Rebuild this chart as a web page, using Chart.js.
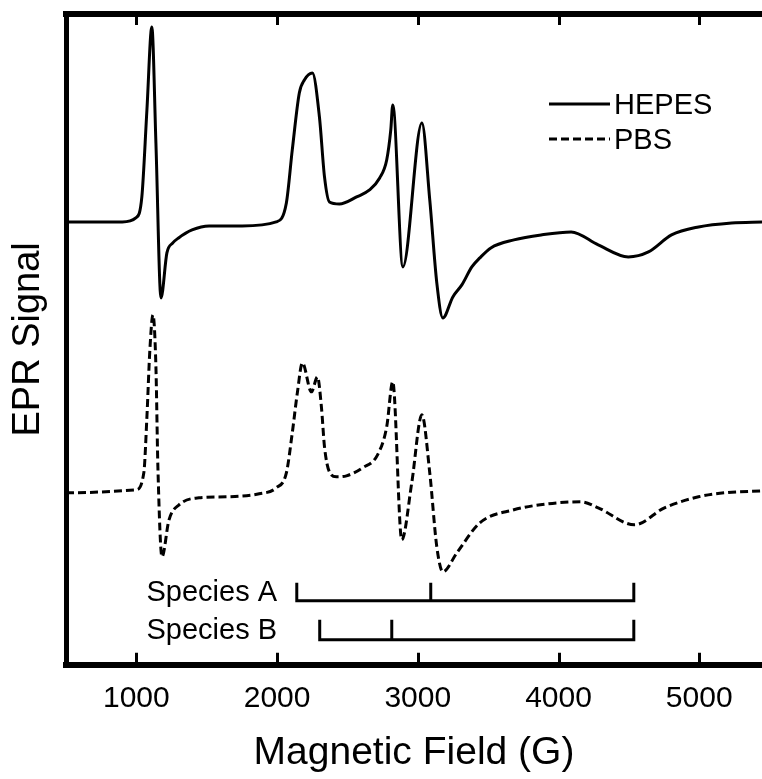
<!DOCTYPE html>
<html>
<head>
<meta charset="utf-8">
<script src="https://cdn.jsdelivr.net/npm/chart.js@4/dist/chart.umd.min.js"></script>
<style>
  html, body { margin: 0; padding: 0; background: #fff; }
  #wrap { width: 762px; height: 779px; }
</style>
</head>
<body>
<div id="wrap"><canvas id="eprChart"></canvas></div>
<script>
"use strict";

// x axis tick values (G)
const xTickValues = [1000, 2000, 3000, 4000, 5000];

// HEPES spectrum (arbitrary signal units)
const hepesField = [500, 900, 996, 1039, 1075, 1110, 1139, 1175, 1217, 1259, 1300, 1396, 1517, 1752, 1994,
    2066, 2108, 2158, 2194, 2251, 2301, 2337, 2372, 2443, 2565, 2657, 2729, 2779, 2808, 2822,
    2894, 3029, 3085, 3135, 3178, 3249, 3313, 3384, 3441, 3519, 3683, 3876, 4090, 4282, 4496,
    4639, 4803, 4995, 5230, 5450];
const hepesSignal = [443, 443, 447, 468, 555, 638, 522, 367, 412, 422, 427, 435, 439, 439, 443,
    462, 515, 572, 585, 592, 548, 488, 463, 461, 468, 475, 487, 505, 535, 560,
    398, 542, 465, 382, 347, 368, 380, 398, 407, 417, 425, 430, 433, 420, 408,
    413, 430, 438, 442, 443];

// PBS spectrum
const pbsField = [500, 996, 1053, 1075, 1096, 1118, 1139, 1153, 1182, 1232, 1303, 1445, 1638, 1873,
    1994, 2066, 2108, 2144, 2180, 2244, 2287, 2315, 2337, 2372, 2422, 2493, 2607, 2714, 2779,
    2822, 2886, 2957, 3029, 3085, 3135, 3178, 3278, 3441, 3683, 3926, 4161, 4282, 4539, 4753,
    4995, 5180, 5450];
const pbsSignal = [172, 175, 192, 248, 315, 350, 298, 198, 108, 145, 160, 167, 168, 171,
    177, 192, 232, 272, 302, 273, 288, 258, 218, 193, 188, 189, 197, 210, 238,
    283, 125, 182, 250, 192, 118, 93, 112, 142, 155, 161, 163, 157, 140, 157,
    168, 172, 174];

// stick diagrams: start, middle, end field (G)
const speciesAField = [2140, 3092, 4535];
const speciesBField = [2303, 2815, 4535];
const speciesALevel = [64, 82];
const speciesBLevel = [25, 45];
const speciesLabels = ['Species A', 'Species B'];
const labelAnchorField = 2000;

const seriesNames = ['HEPES', 'PBS'];

const zip = (xs, ys) => xs.map((x, i) => ({ x: x, y: ys[i] }));

//bracket with a tick at start, middle and end
function stickData(field, level) {
    const [start, mid, end] = field;
    const [base, top] = level;
    return [
        { x: start, y: top }, { x: start, y: base }, { x: end, y: base }, { x: end, y: top },
        { x: end, y: null },
        { x: mid, y: base }, { x: mid, y: top }
    ];
}

const FONT = '"Liberation Sans", Arial, Helvetica, sans-serif';

//inward tick marks, legend and stick labels
const extrasPlugin = {
    id: 'extras',
    afterDraw(chart) {
        const ctx = chart.ctx;
        const xs = chart.scales.x;
        const ys = chart.scales.y;
        const area = chart.chartArea;
        ctx.save();
        ctx.strokeStyle = '#000';
        ctx.lineWidth = 3;
        xTickValues.forEach(v => {
            const px = Math.round(xs.getPixelForValue(v)) + 0.5;
            ctx.beginPath();
            ctx.moveTo(px, area.bottom);
            ctx.lineTo(px, area.bottom - 12);
            ctx.moveTo(px, area.top);
            ctx.lineTo(px, area.top + 11);
            ctx.stroke();
        });

        //legend
        ctx.font = '29px ' + FONT;
        ctx.fillStyle = '#000';
        ctx.textBaseline = 'middle';
        ctx.textAlign = 'left';
        seriesNames.forEach((name, i) => {
            const ds = chart.data.datasets[i];
            const y = 104 + i * 35;
            ctx.setLineDash(ds.borderDash || []);
            ctx.lineWidth = ds.borderWidth;
            ctx.beginPath();
            ctx.moveTo(549, y);
            ctx.lineTo(610, y);
            ctx.stroke();
            ctx.setLineDash([]);
            ctx.fillText(name, 614, y + 2);
        });

        //species labels
        ctx.textAlign = 'right';
        const lx = xs.getPixelForValue(labelAnchorField);
        [speciesALevel, speciesBLevel].forEach((lvl, i) => {
            const y = ys.getPixelForValue((lvl[0] + lvl[1]) / 2);
            ctx.fillText(speciesLabels[i], lx, y + 1);
        });
        ctx.restore();
    }
};

const ctx = document.getElementById('eprChart').getContext('2d');
const eprChart = new Chart(ctx, {
    type: 'line',
    data: {
        datasets: [
            {
                label: seriesNames[0],
                data: zip(hepesField, hepesSignal),
                borderColor: '#000',
                borderWidth: 3,
                pointRadius: 0,
                cubicInterpolationMode: 'monotone',
                fill: false
            },
            {
                label: seriesNames[1],
                data: zip(pbsField, pbsSignal),
                borderColor: '#000',
                borderWidth: 3,
                borderDash: [8, 4],
                pointRadius: 0,
                cubicInterpolationMode: 'monotone',
                fill: false
            },
            {
                label: speciesLabels[0],
                data: stickData(speciesAField, speciesALevel),
                borderColor: '#000',
                borderWidth: 3,
                pointRadius: 0,
                tension: 0,
                spanGaps: false
            },
            {
                label: speciesLabels[1],
                data: stickData(speciesBField, speciesBLevel),
                borderColor: '#000',
                borderWidth: 3,
                pointRadius: 0,
                tension: 0,
                spanGaps: false
            }
        ]
    },
    options: {
        responsive: true,
        maintainAspectRatio: false,
        animation: false,
        layout: {
            padding: { top: 14, right: 0, bottom: 0, left: 0 }
        },
        plugins: {
            legend: { display: false },
            tooltip: { enabled: false }
        },
        scales: {
            x: {
                type: 'linear',
                position: 'bottom',
                min: 500,
                max: 5446,
                afterBuildTicks: scale => {
                    scale.ticks = xTickValues.map(v => ({ value: v }));
                },
                grid: { drawOnChartArea: false, drawTicks: false },
                border: { display: true, color: '#000', width: 6 },
                ticks: {
                    color: '#000',
                    padding: 18.5,
                    maxRotation: 0,
                    callback: value => String(value),
                    font: { family: FONT, size: 30, lineHeight: 1 }
                },
                title: {
                    display: true,
                    text: 'Magnetic Field (G)',
                    color: '#000',
                    padding: { top: 7, bottom: 11 },
                    font: { family: FONT, size: 39, lineHeight: 0.75 }
                }
            },
            x2: {
                type: 'linear',
                position: 'top',
                min: 500,
                max: 5446,
                grid: { drawOnChartArea: false, drawTicks: false },
                border: { display: true, color: '#000', width: 6 },
                ticks: { display: false }
            },
            y: {
                type: 'linear',
                min: 0,
                max: 651,
                grid: { drawOnChartArea: false, drawTicks: false },
                border: { display: true, color: '#000', width: 5 },
                ticks: { display: false },
                title: {
                    display: true,
                    text: 'EPR Signal',
                    color: '#000',
                    padding: { top: 10, bottom: 18 },
                    font: { family: FONT, size: 38, lineHeight: 1 }
                }
            }
        }
    },
    plugins: [extrasPlugin]
});
</script>
</body>
</html>
